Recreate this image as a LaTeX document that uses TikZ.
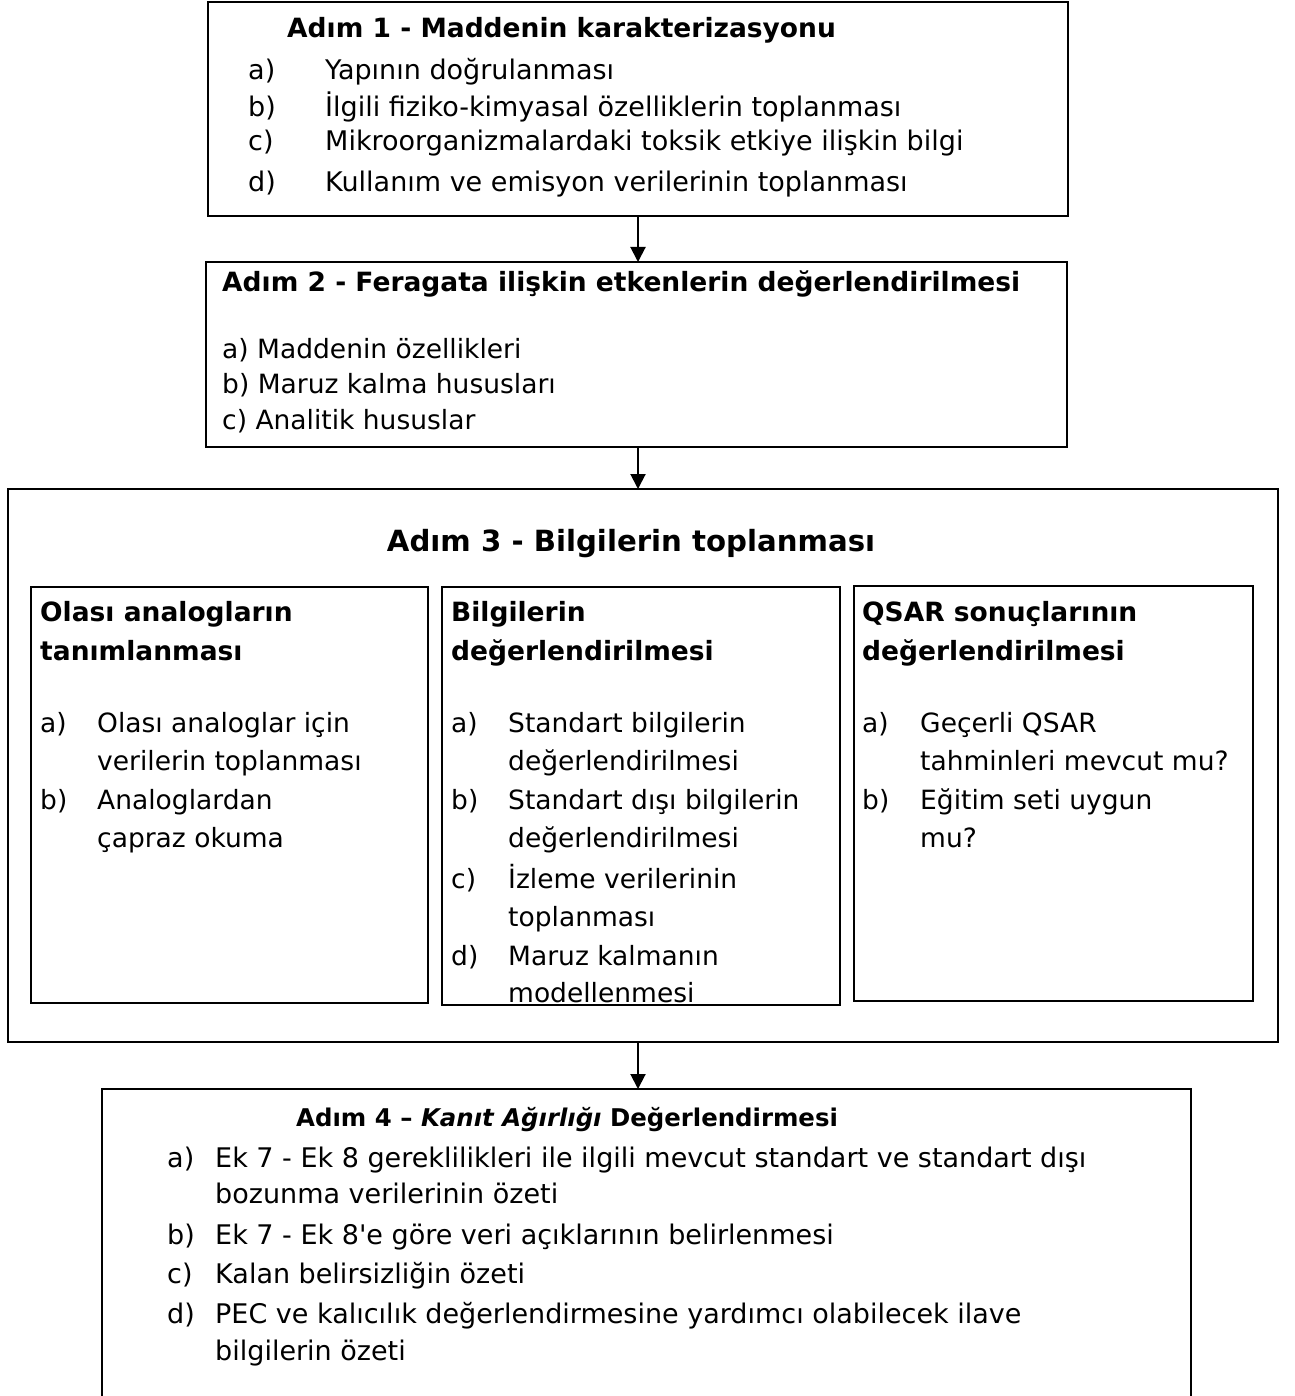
\documentclass[tikz,border=0pt]{standalone}
\usepackage{fontspec}
\setmainfont{DejaVu Sans}[ItalicFont={DejaVu Sans Oblique},BoldFont={DejaVu Sans Bold},BoldItalicFont={DejaVu Sans Bold Oblique}]
\newfontfamily\qfont{DejaVu Sans}
\usetikzlibrary{arrows.meta}
\tikzset{
  box/.style={draw, line width=2pt, anchor=north west, inner sep=0pt, outer sep=0pt},
  tx/.style={anchor=base west, inner sep=0pt, font=\fontsize{26.5}{32}\selectfont},
  txl/.style={anchor=base west, inner sep=0pt, font=\fontsize{27}{32}\selectfont},
  hd/.style={tx, font=\fontsize{26.5}{32}\selectfont\bfseries},
  hdsm/.style={tx, font=\fontsize{24.4}{30}\selectfont\bfseries},
  bighd/.style={anchor=base, inner sep=0pt, font=\fontsize{29.2}{34}\selectfont\bfseries},
  arr/.style={line width=2pt, -{Triangle[width=15pt,length=15pt]}}
}
\begin{document}
\begin{tikzpicture}[x=1pt,y=-1pt]
\useasboundingbox (0,0) rectangle (1294,1396);
% boxes
\node[box, minimum width=860pt, minimum height=214pt] (b1) at (208,2) {};
\node[box, minimum width=861pt, minimum height=185pt] (b2) at (206,262) {};
\node[box, minimum width=1270pt, minimum height=553pt] (b3) at (8,489) {};
\node[box, minimum width=397pt, minimum height=416pt] (s1) at (31,587) {};
\node[box, minimum width=398pt, minimum height=418pt] (s2) at (442,587) {};
\node[box, minimum width=399pt, minimum height=415pt] (s3) at (854,586) {};
\node[anchor=north west, inner sep=0pt, outer sep=0pt, minimum width=1089pt, minimum height=310pt] (b4) at (102,1089) {};
\draw[line width=2pt] (b4.south west) -- (b4.north west) -- (b4.north east) -- (b4.south east);
% arrows
\coordinate (ax) at (638,0);
\draw[arr] (b1.south -| ax) -- (b2.north -| ax);
\draw[arr] (b2.south -| ax) -- (b3.north -| ax);
\draw[arr] (b3.south -| ax) -- (b4.north -| ax);
% box 1
\node[hd] (h1) at (287,38) {Adım 1 - Maddenin karakterizasyonu};
\node[txl] (l1a) at (248,80) {a)};
\node[txl] (t1a) at (325,80) {Yapının doğrulanması};
\node[txl] (l1b) at (248,117) {b)};
\node[txl] (t1b) at (325,117) {İlgili fiziko-kimyasal özelliklerin toplanması};
\node[txl] (l1c) at (248,151) {c)};
\node[txl] (t1c) at (325,151) {Mikroorganizmalardaki toksik etkiye ilişkin bilgi};
\node[txl] (l1d) at (248,192) {d)};
\node[txl] (t1d) at (325,192) {Kullanım ve emisyon verilerinin toplanması};
% box 2
\node[hd] (h2) at (222,292) {Adım 2 - Feragata ilişkin etkenlerin değerlendirilmesi};
\node[tx] (t2a) at (222,358) {a) Maddenin özellikleri};
\node[tx] (t2b) at (222,393) {b) Maruz kalma hususları};
\node[tx] (t2c) at (222,429) {c) Analitik hususlar};
% box 3
\node[bighd] (h3) at (631,551) {Adım 3 - Bilgilerin toplanması};
% sub 1
\node[hd] (h31a) at (40,621) {Olası analogların};
\node[hd] (h31b) at (40,660) {tanımlanması};
\node[tx] (l31a) at (40,732) {a)};
\node[tx] (t31a1) at (97,732) {Olası analoglar için};
\node[tx] (t31a2) at (97,770) {verilerin toplanması};
\node[tx] (l31b) at (40,809) {b)};
\node[tx] (t31b1) at (97,809) {Analoglardan};
\node[tx] (t31b2) at (97,847) {çapraz okuma};
% sub 2
\node[hd] (h32a) at (451,621) {Bilgilerin};
\node[hd] (h32b) at (451,660) {değerlendirilmesi};
\node[tx] (l32a) at (451,732) {a)};
\node[tx] (t32a1) at (508,732) {Standart bilgilerin};
\node[tx] (t32a2) at (508,770) {değerlendirilmesi};
\node[tx] (l32b) at (451,809) {b)};
\node[tx] (t32b1) at (508,809) {Standart dışı bilgilerin};
\node[tx] (t32b2) at (508,847) {değerlendirilmesi};
\node[tx] (l32c) at (451,888) {c)};
\node[tx] (t32c1) at (508,888) {İzleme verilerinin};
\node[tx] (t32c2) at (508,926) {toplanması};
\node[tx] (l32d) at (451,965) {d)};
\node[tx] (t32d1) at (508,965) {Maruz kalmanın};
\node[tx] (t32d2) at (508,1002) {modellenmesi};
% sub 3
\node[hd] (h33a) at (862,621) {QSAR sonuçlarının};
\node[hd] (h33b) at (862,660) {değerlendirilmesi};
\node[tx] (l33a) at (862,732) {a)};
\node[tx] (t33a1) at (920,732) {Geçerli QSAR};
\node[tx] (t33a2) at (920,770) {tahminleri mevcut mu?};
\node[tx] (l33b) at (862,809) {b)};
\node[tx] (t33b1) at (920,809) {Eğitim seti uygun};
\node[tx] (t33b2) at (920,847) {mu?};
% box 4
\node[hdsm] (h4) at (296,1126) {Adım 4 – \textit{Kanıt Ağırlığı} Değerlendirmesi};
\node[txl] (l4a) at (167,1167) {a)};
\node[txl] (t4a1) at (215,1167) {Ek 7 - Ek 8 gereklilikleri ile ilgili mevcut standart ve standart dışı};
\node[txl] (t4a2) at (215,1203) {bozunma verilerinin özeti};
\node[txl] (l4b) at (167,1244) {b)};
\node[txl] (t4b) at (215,1244) {Ek 7 - Ek 8{\qfont'}e göre veri açıklarının belirlenmesi};
\node[txl] (l4c) at (167,1283) {c)};
\node[txl] (t4c) at (215,1283) {Kalan belirsizliğin özeti};
\node[txl] (l4d) at (167,1323) {d)};
\node[txl] (t4d1) at (215,1323) {PEC ve kalıcılık değerlendirmesine yardımcı olabilecek ilave};
\node[txl] (t4d2) at (215,1360) {bilgilerin özeti};
\end{tikzpicture}
\end{document}
